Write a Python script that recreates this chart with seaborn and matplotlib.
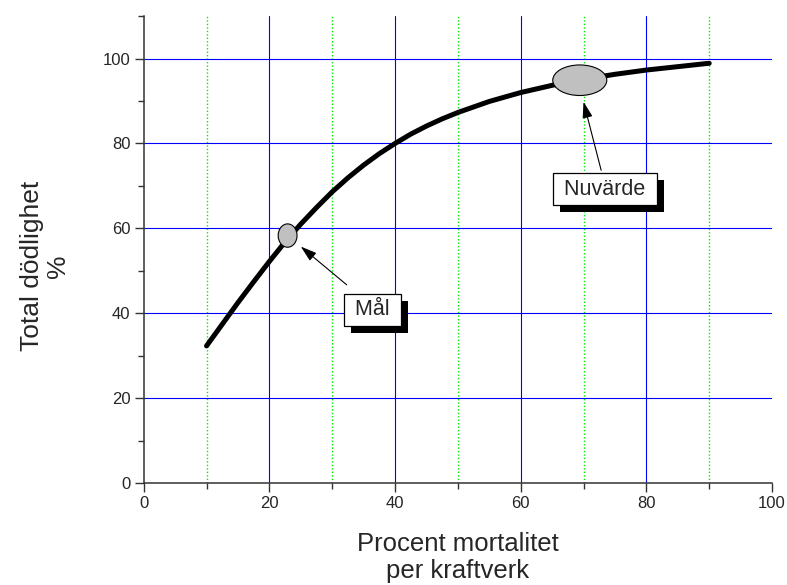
import numpy as np
import pandas as pd
import matplotlib
matplotlib.use('Agg')
import matplotlib.pyplot as plt
import matplotlib.patheffects as pe
from matplotlib.patches import Ellipse
import seaborn as sns

# values
mortality_per_plant = [10, 12.5, 15, 17.5, 20, 22.5, 25, 27.5, 30, 32.5, 35, 37.5, 40,
                       42.5, 45, 47.5, 50, 55, 60, 65, 70, 75, 80, 85, 90]
total_mortality = [32.3, 37.4, 42.5, 47.4, 52.2, 56.8, 61.0, 64.9, 68.6, 71.9, 74.9, 77.6, 80.0,
                   82.2, 84.1, 85.8, 87.3, 89.9, 92.0, 93.7, 95.1, 96.3, 97.3, 98.1, 98.9]

# marked points (centre) and ellipse sizes in data units
mal_point = [22.9, 58.3]
mal_size = [3.0, 5.5]
nuv_point = [69.4, 94.9]
nuv_size = [8.6, 7.2]

x_ticks = [0, 20, 40, 60, 80, 100]
y_ticks = [0, 20, 40, 60, 80, 100]

sns.set_theme(style="white")
plt.rcParams['font.family'] = ['Liberation Sans', 'DejaVu Sans']

df = pd.DataFrame({'x': mortality_per_plant, 'y': total_mortality})

fig = plt.figure(figsize=(7.87, 5.85), dpi=100)
ax = fig.add_axes([0.1826, 0.1744, 0.7984, 0.798])

sns.lineplot(data=df, x='x', y='y', ax=ax, color='black', linewidth=3.6,
             solid_capstyle='round', solid_joinstyle='round', zorder=5)

ax.set_xlim(0, 100)
ax.set_ylim(0, 110)
ax.set_xticks(x_ticks)
ax.set_yticks(y_ticks)
ax.set_xticks(np.arange(10, 100, 20), minor=True)
ax.set_yticks(np.arange(10, 120, 20), minor=True)

ax.grid(which='major', color='#0000ff', linewidth=0.8, zorder=0)
ax.grid(which='minor', axis='x', color='#00ee00', linestyle=(0, (1, 1.5)),
        linewidth=1.0, zorder=0)
ax.grid(which='minor', axis='y', visible=False)
# hide gridlines that sit on the axis ends
ax.get_xgridlines()[0].set_visible(False)
ax.get_xgridlines()[-1].set_visible(False)
ax.get_ygridlines()[0].set_visible(False)
ax.set_axisbelow(True)

for s in ['top', 'right']:
    ax.spines[s].set_visible(False)
for s in ['left', 'bottom']:
    ax.spines[s].set_color('#333333')
    ax.spines[s].set_linewidth(1.1)

ax.tick_params(which='major', direction='out', length=6.5, width=1, color='#333333',
               labelsize=12, pad=3, left=True, bottom=True)
ax.tick_params(which='minor', direction='out', length=4, width=1, color='#333333',
               left=True, bottom=True)

ax.set_xlabel('Procent mortalitet\nper kraftverk', fontsize=18.5, va='top', linespacing=1.15)
ax.xaxis.set_label_coords(0.5, -0.105)
ax.set_ylabel('Total dödlighet\n%', fontsize=19, linespacing=1.1)
ax.yaxis.set_label_coords(-0.118, 0.465)

for (px, py), (w, h) in [(mal_point, mal_size), (nuv_point, nuv_size)]:
    ax.add_patch(Ellipse((px, py), w, h, facecolor='#c0c0c0', edgecolor='black',
                         linewidth=0.8, zorder=6))

shadow = [pe.SimplePatchShadow(offset=(5, -5), shadow_rgbFace='black', alpha=1.0), pe.Normal()]

box = dict(boxstyle='square,pad=0.25', facecolor='white', edgecolor='black', linewidth=0.9)
t1 = ax.text(36.45, 40.8, ' Mål ', fontsize=15.5, ha='center', va='center',
             bbox=box, zorder=8)
t1.get_bbox_patch().set_path_effects(shadow)
t2 = ax.text(73.4, 69.2, ' Nuvärde ', fontsize=15.5, ha='center', va='center',
             bbox=box, zorder=8)
t2.get_bbox_patch().set_path_effects(shadow)

arrow = dict(arrowstyle='-|>,head_length=0.7,head_width=0.22', color='black',
             linewidth=0.8, shrinkA=0, shrinkB=0, mutation_scale=14)
ax.annotate('', xy=(25.0, 55.7), xytext=(32.3, 46.7), arrowprops=arrow, zorder=7)
ax.annotate('', xy=(70.0, 89.8), xytext=(72.8, 73.7), arrowprops=arrow, zorder=7)

plt.savefig('out.png', dpi=100)
